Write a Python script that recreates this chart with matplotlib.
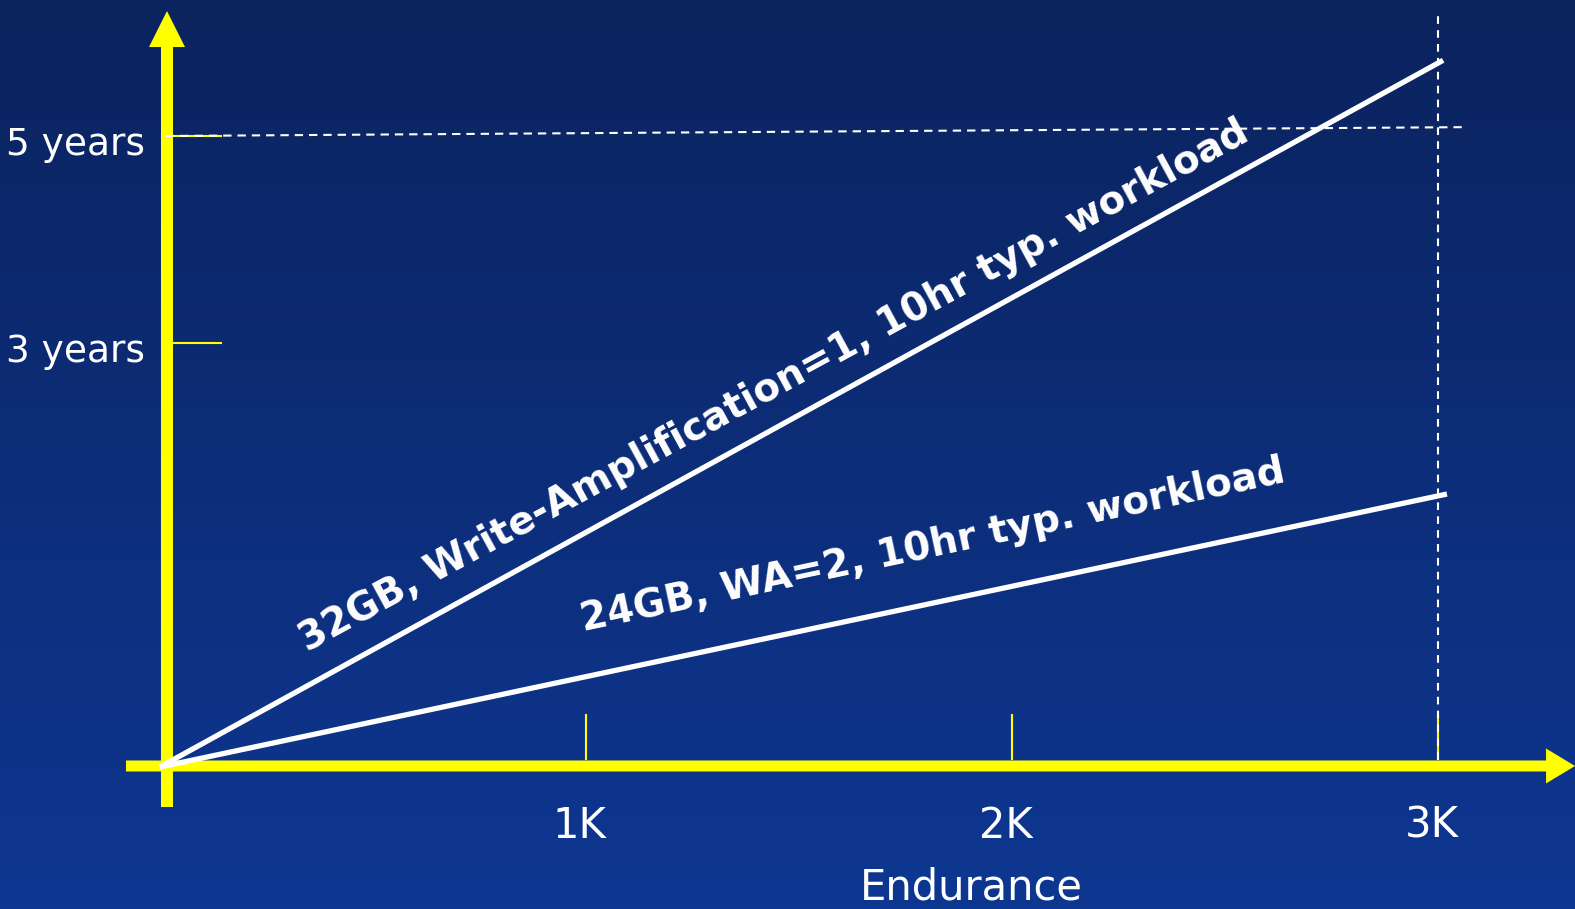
import numpy as np
import matplotlib
matplotlib.use("Agg")
import matplotlib.pyplot as plt
from matplotlib.patches import FancyArrow
from matplotlib.colors import LinearSegmentedColormap

plt.rcParams['font.family'] = ['DejaVu Sans']
plt.rcParams['lines.scale_dashes'] = False

# ---- data ----
x_ticks = [1, 2, 3]
x_tick_labels = ["1K", "2K", "3K"]
y_ticks = [3.36, 5.0]
y_tick_labels = ["3 years", "5 years"]
x_label = "Endurance"

line1_x = [0, 3.012]
line1_y = [0, 5.60]
line1_label = "32GB, Write-Amplification=1, 10hr typ. workload"
line2_x = [0, 3.021]
line2_y = [0, 2.163]
line2_label = "24GB, WA=2, 10hr typ. workload"

ref5_x = [0.014, 3.056]
ref5_y = [5.0, 5.07]
ref3k_x = [3.0, 3.0]
ref3k_y = [0.055, 5.967]

# ---- figure ----
W, H = 1575, 909
fig = plt.figure(figsize=(W / 100, H / 100), dpi=100)

bg = fig.add_axes([0, 0, 1, 1], zorder=0)
cmap = LinearSegmentedColormap.from_list("bg", ["#0b235e", "#0e3792"])
grad = np.linspace(0, 1, 256).reshape(-1, 1)
bg.imshow(grad, cmap=cmap, aspect='auto', extent=[0, 1, 0, 1], origin='upper')
bg.axis('off')

ax = fig.add_axes([0, 0, 1, 1], zorder=1)
ax.patch.set_alpha(0)
ax.set_xlim(-160 / 426, 1415 / 426)
ax.set_ylim((767 - 909) / 126.2, 767 / 126.2)
ax.axis('off')

yellow = "#ffff00"
white = "#ffffff"

# axes arrows
yax_x = 0.0164
ax.add_patch(FancyArrow(yax_x, -0.317, 0, 5.99 + 0.317, width=0.0282,
                        head_width=0.0845, head_length=0.285,
                        length_includes_head=True, color=yellow, lw=0, zorder=2))
ax.add_patch(FancyArrow(-0.0798, 0.008, 3.3216 + 0.0798, 0, width=0.0872,
                        head_width=0.277, head_length=0.068,
                        length_includes_head=True, color=yellow, lw=0, zorder=2))

# tick marks
for xt in x_ticks:
    ax.plot([xt, xt], [0.055, 0.42], color=yellow, lw=1.5, zorder=3,
            solid_capstyle='butt')
for yt in y_ticks:
    ax.plot([0.0305, 0.1455], [yt, yt], color=yellow, lw=1.5, zorder=3,
            solid_capstyle='butt')

# dashed reference lines
ax.plot(ref5_x, ref5_y, color=white, lw=1.5, dashes=(6, 4.3), zorder=4)
ax.plot(ref3k_x, ref3k_y, color=white, lw=1.5, dashes=(5.5, 4.5), zorder=4)

# data lines
ax.plot(line1_x, line1_y, color=white, lw=3.8, zorder=5, solid_capstyle='butt')
ax.plot(line2_x, line2_y, color=white, lw=3.8, zorder=5, solid_capstyle='butt')

# line labels
ax.text(1.453, 2.94, line1_label, rotation=28.5, rotation_mode='anchor',
        ha='center', va='baseline', color=white, fontsize=28,
        fontweight='bold', zorder=6)
ax.text(1.819, 1.672, line2_label, rotation=12, rotation_mode='anchor',
        ha='center', va='baseline', color=white, fontsize=28,
        fontweight='bold', zorder=6)

# tick labels
for xt, lab in zip(x_ticks, x_tick_labels):
    ax.text(xt - 0.015, -0.56, lab, ha='center', va='baseline', color=white,
            fontsize=30)
for yt, lab in zip(y_ticks, y_tick_labels):
    ax.text(-0.035, yt - 0.15, lab, ha='right', va='baseline', color=white,
            fontsize=27)

ax.text(1.904, -1.05, x_label, ha='center', va='baseline', color=white,
        fontsize=30)

fig.savefig("out.png", dpi=100)
